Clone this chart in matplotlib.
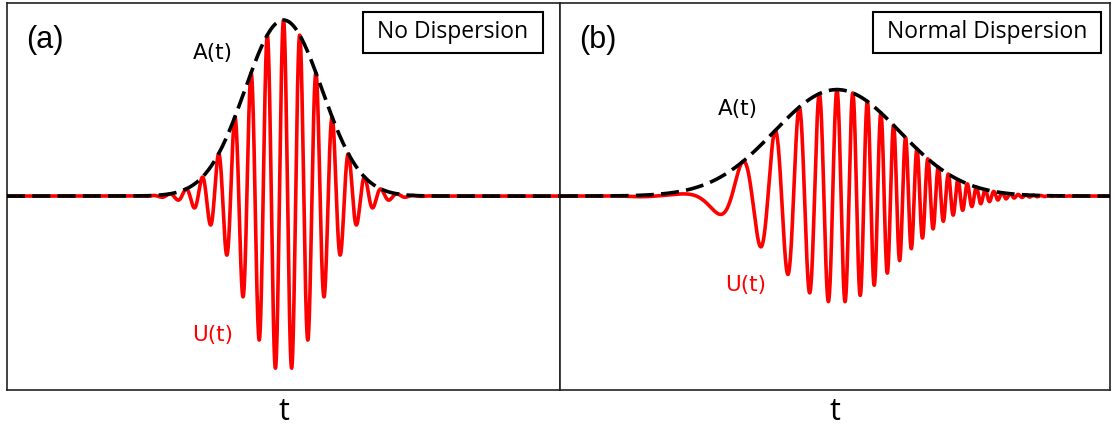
import numpy as np
import matplotlib
matplotlib.use("Agg")
import matplotlib.pyplot as plt
from matplotlib.patches import Rectangle

plt.rcParams['font.family'] = ['Open Sans', 'DejaVu Sans']

# time axis (arbitrary units, each panel spans -1..1)
t = np.linspace(-1, 1, 8000)

# pulse parameters
panel_tags = ["(a)", "(b)"]
panel_titles = ["No Dispersion", "Normal Dispersion"]
amplitude = [1.0, 0.605]       # envelope peak height
center = [0.0, 0.007]          # envelope centre
width = [0.139, 0.228]         # gaussian sigma
carrier = [17.0, 16.5]         # cycles per unit at pulse centre
chirp = [0.0, 28.2]            # cycles per unit^2 (linear frequency sweep)

# label positions (axes fraction)
a_label_pos = [(0.372, 0.871), (0.3236, 0.726)]
u_label_pos = [(0.372, 0.142), (0.338, 0.271)]
box_px = [(363, 12, 543, 53), (873, 12, 1101, 53)]

fig = plt.figure(figsize=(11.15, 4.25), dpi=100)
W, H = 1115, 425
ax_px = [(7, 3, 560, 390), (560, 3, 1110, 390)]

for i in range(2):
    x0, y0, x1, y1 = ax_px[i]
    ax = fig.add_axes([x0 / W, (H - y1) / H, (x1 - x0) / W, (y1 - y0) / H])
    tau = t - center[i]
    env = amplitude[i] * np.exp(-tau**2 / (2 * width[i]**2))
    phase = 2 * np.pi * (carrier[i] * tau + 0.5 * chirp[i] * tau**2)
    u = env * np.cos(phase)

    ax.plot(t, u, color='#ff0000', lw=2.6, zorder=2)
    ax.plot(t, env, color='black', lw=2.6, dashes=(5, 2.0), zorder=3)

    ax.set_xlim(-1, 1)
    ax.set_ylim(-1.102, 1.097)
    ax.set_xticks([])
    ax.set_yticks([])
    for s in ax.spines.values():
        s.set_linewidth(1.2)
        s.set_color('#222222')
    ax.set_xlabel("t", fontsize=22, labelpad=5)

    ax.text(0.069, 0.905, panel_tags[i], transform=ax.transAxes, fontsize=22,
            family=['Liberation Sans', 'DejaVu Sans'], ha='center', va='center')
    ax.text(a_label_pos[i][0], a_label_pos[i][1], "A(t)", transform=ax.transAxes,
            fontsize=15.5, family=['DejaVu Sans'], color='black', ha='center', va='center')
    ax.text(u_label_pos[i][0], u_label_pos[i][1], "U(t)", transform=ax.transAxes,
            fontsize=15.5, family=['DejaVu Sans'], color='#ff0000', ha='center', va='center')

    bx0, by0, bx1, by1 = box_px[i]
    fx0 = (bx0 - x0) / (x1 - x0)
    fx1 = (bx1 - x0) / (x1 - x0)
    fy0 = (y1 - by1) / (y1 - y0)
    fy1 = (y1 - by0) / (y1 - y0)
    ax.add_patch(Rectangle((fx0, fy0), fx1 - fx0, fy1 - fy0, transform=ax.transAxes,
                           fill=False, ec='black', lw=1.5, zorder=5))
    ax.text((fx0 + fx1) / 2, (fy0 + fy1) / 2, panel_titles[i], transform=ax.transAxes,
            fontsize=16.5, ha='center', va='center', zorder=6)

fig.savefig("out.png", dpi=100)
